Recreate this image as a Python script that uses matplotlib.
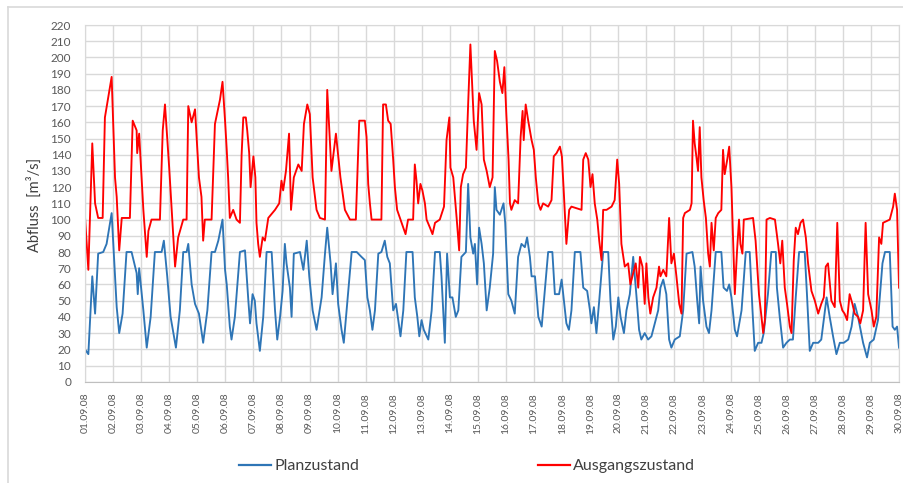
import matplotlib.pyplot as plt
from matplotlib.lines import Line2D

# Abfluss Sept. 2008 (day offset from 01.09.08, m3/s)
red_day = [0.00, 0.12, 0.26, 0.36, 0.47, 0.63, 0.71, 0.95, 1.07, 1.13, 1.22, 1.31, 1.60, 1.70, 1.84, 1.86, 1.93,
           2.08, 2.20, 2.26, 2.37, 2.67, 2.77, 2.85, 2.94, 3.00, 3.21, 3.32, 3.50, 3.62, 3.68, 3.80, 3.92,
           4.06, 4.15, 4.21, 4.27, 4.51, 4.63, 4.81, 4.90, 4.99, 5.05, 5.10, 5.16, 5.28, 5.40, 5.52, 5.58,
           5.64, 5.73, 5.78, 5.85, 5.90, 6.00, 6.07, 6.11, 6.17, 6.23, 6.33, 6.41, 6.53, 6.77, 6.92, 7.00,
           7.06, 7.16, 7.27, 7.34, 7.44, 7.60, 7.72, 7.80, 7.92, 8.01, 8.11, 8.25, 8.37, 8.55, 8.63, 8.78,
           8.94, 9.10, 9.26, 9.44, 9.65, 9.77, 9.97, 10.03, 10.09, 10.15, 10.21, 10.56, 10.62, 10.72, 10.80,
           10.89, 10.98, 11.04, 11.12, 11.22, 11.42, 11.51, 11.69, 11.75, 11.81, 11.87, 11.95, 12.02, 12.11,
           12.17, 12.29, 12.38, 12.47, 12.64, 12.79, 12.88, 12.98, 13.02, 13.12, 13.24, 13.33, 13.39, 13.47,
           13.57, 13.65, 13.73, 13.78, 13.85, 13.95, 14.04, 14.13, 14.21, 14.31, 14.42, 14.52, 14.60, 14.68,
           14.78, 14.87, 14.94, 15.01, 15.09, 15.14, 15.19, 15.31, 15.43, 15.52, 15.59, 15.63, 15.70, 15.79,
           15.91, 15.99, 16.06, 16.15, 16.23, 16.32, 16.50, 16.62, 16.70, 16.80, 16.92, 16.99, 17.06, 17.15,
           17.25, 17.33, 17.69, 17.75, 17.84, 17.93, 18.01, 18.08, 18.16, 18.25, 18.32, 18.40, 18.46, 18.58,
           18.76, 18.87, 18.96, 19.03, 19.11, 19.23, 19.35, 19.43, 19.53, 19.62, 19.71, 19.77, 19.86, 19.94,
           20.00, 20.07, 20.14, 20.24, 20.36, 20.45, 20.50, 20.60, 20.71, 20.81, 20.89, 20.98, 21.07, 21.17,
           21.25, 21.31, 21.37, 21.55, 21.61, 21.66, 21.72, 21.78, 21.84, 21.90, 21.96, 22.04, 22.12, 22.20,
           22.26, 22.32, 22.40, 22.47, 22.56, 22.67, 22.73, 22.79, 22.88, 22.95, 23.03, 23.15, 23.23, 23.30,
           23.35, 23.42, 23.47, 23.80, 23.89, 24.01, 24.10, 24.16, 24.22, 24.28, 24.40, 24.58, 24.69, 24.77,
           24.84, 24.93, 25.01, 25.11, 25.17, 25.25, 25.32, 25.40, 25.49, 25.58, 25.68, 25.76, 25.88, 26.00,
           26.12, 26.23, 26.32, 26.39, 26.47, 26.59, 26.71, 26.80, 26.89, 26.98, 27.06, 27.15, 27.24, 27.34,
           27.42, 27.54, 27.62, 27.72, 27.81, 27.90, 28.02, 28.10, 28.19, 28.29, 28.37, 28.43, 28.67, 28.79,
           28.85, 28.93, 29.00]
red_q = [102, 69, 147, 110, 101, 101, 163, 188, 126, 114, 81, 101, 101, 161, 155, 141, 153,
         106, 77, 93, 100, 100, 155, 171, 147, 132, 71, 89, 100, 100, 170, 160, 168,
         126, 114, 87, 100, 100, 159, 174, 185, 161, 143, 126, 101, 106, 100, 98, 140,
         163, 163, 155, 141, 120, 139, 126, 98, 85, 77, 89, 87, 101, 106, 110, 124,
         118, 130, 153, 106, 126, 134, 130, 159, 171, 165, 126, 106, 101, 100, 180, 130,
         153, 126, 106, 100, 100, 161, 161, 151, 122, 110, 100, 100, 171, 171, 161,
         159, 137, 120, 106, 101, 91, 100, 100, 134, 124, 110, 122, 118, 110,
         100, 95, 91, 98, 100, 108, 149, 163, 132, 126, 101, 81, 120, 128,
         132, 171, 208, 188, 161, 143, 178, 171, 137, 130, 120, 126, 204, 198,
         185, 178, 194, 165, 137, 110, 106, 112, 110, 151, 167, 149, 171, 161,
         149, 143, 126, 110, 106, 110, 108, 112, 139, 141, 145, 139, 116, 85,
         106, 108, 106, 137, 141, 137, 120, 128, 110, 100, 87, 75, 106, 106,
         108, 112, 137, 122, 85, 71, 73, 60, 67, 73, 58, 77, 71, 48,
         73, 52, 42, 52, 58, 71, 65, 69, 65, 101, 73, 79, 65, 48,
         42, 101, 104, 106, 110, 161, 147, 139, 130, 157, 126, 112, 101, 79,
         71, 98, 81, 101, 104, 106, 143, 128, 137, 145, 120, 54, 81, 100,
         85, 79, 100, 101, 87, 54, 40, 30, 38, 100, 101, 100, 85, 73,
         87, 58, 48, 34, 30, 75, 95, 91, 98, 100, 89, 73, 56, 50,
         42, 48, 52, 71, 73, 50, 46, 98, 50, 44, 42, 38, 54, 48,
         42, 40, 36, 44, 98, 54, 44, 34, 40, 89, 85, 98, 100, 108,
         116, 106, 58]

blue_day = [0.00, 0.12, 0.26, 0.36, 0.47, 0.65, 0.77, 0.95, 1.01, 1.13, 1.22, 1.34, 1.48, 1.66, 1.84, 1.88, 1.93,
            2.08, 2.20, 2.34, 2.49, 2.73, 2.81, 2.93, 3.05, 3.24, 3.38, 3.50, 3.62, 3.68, 3.80, 3.92, 4.06,
            4.21, 4.36, 4.51, 4.63, 4.75, 4.90, 4.99, 5.05, 5.16, 5.22, 5.34, 5.52, 5.70, 5.76, 5.82, 5.88,
            5.97, 6.05, 6.11, 6.23, 6.35, 6.47, 6.65, 6.77, 6.85, 6.95, 7.04, 7.12, 7.18, 7.30, 7.36, 7.44,
            7.66, 7.78, 7.90, 7.99, 8.11, 8.25, 8.43, 8.55, 8.63, 8.75, 8.82, 8.94, 9.02, 9.14, 9.22, 9.32,
            9.50, 9.68, 9.85, 9.97, 10.06, 10.15, 10.24, 10.33, 10.45, 10.56, 10.68, 10.77, 10.86, 10.98,
            11.08, 11.16, 11.24, 11.34, 11.45, 11.67, 11.75, 11.84, 11.91, 11.99, 12.07, 12.23, 12.35, 12.47,
            12.64, 12.70, 12.82, 12.90, 13.00, 13.09, 13.21, 13.30, 13.41, 13.57, 13.65, 13.73, 13.83, 13.89,
            13.97, 14.04, 14.13, 14.21, 14.31, 14.42, 14.54, 14.60, 14.66, 14.78, 14.91, 14.97, 15.08, 15.19,
            15.31, 15.43, 15.55, 15.67, 15.75, 15.85, 15.91, 16.03, 16.15, 16.27, 16.38, 16.50, 16.65, 16.74,
            16.89, 16.98, 17.06, 17.15, 17.24, 17.33, 17.45, 17.65, 17.75, 17.89, 17.99, 18.04, 18.13, 18.22,
            18.32, 18.46, 18.64, 18.72, 18.82, 18.91, 19.00, 19.08, 19.20, 19.29, 19.41, 19.53, 19.65, 19.74,
            19.82, 19.94, 20.06, 20.18, 20.30, 20.42, 20.50, 20.60, 20.71, 20.81, 20.89, 21.01, 21.19, 21.31,
            21.43, 21.64, 21.72, 21.81, 21.88, 21.93, 22.02, 22.14, 22.23, 22.32, 22.47, 22.67, 22.75, 22.87,
            22.95, 23.03, 23.15, 23.23, 23.39, 23.54, 23.68, 23.78, 23.86, 23.98, 24.10, 24.18, 24.33, 24.45,
            24.61, 24.65, 24.75, 24.87, 24.99, 25.11, 25.22, 25.32, 25.44, 25.64, 25.72, 25.82, 25.94, 26.12,
            26.23, 26.42, 26.53, 26.65, 26.77, 26.89, 27.03, 27.19, 27.31, 27.42, 27.54, 27.72, 27.86, 27.96,
            28.10, 28.25, 28.41, 28.50, 28.67, 28.77, 28.85, 28.93, 29.00]
blue_q = [20, 17, 65, 42, 79, 80, 85, 104, 85, 46, 30, 42, 80, 80, 67, 54, 70,
          44, 21, 40, 80, 80, 87, 65, 40, 21, 44, 80, 80, 85, 60, 48, 42,
          24, 44, 80, 80, 87, 100, 69, 60, 34, 26, 40, 80, 81, 65, 50, 36,
          54, 50, 36, 19, 40, 80, 80, 44, 26, 40, 56, 85, 73, 58, 40, 79,
          80, 69, 87, 65, 44, 32, 52, 79, 95, 73, 54, 73, 48, 32, 24, 44,
          80, 80, 77, 75, 52, 44, 32, 44, 79, 80, 87, 77, 73, 44,
          48, 38, 28, 44, 80, 80, 52, 40, 28, 38, 32, 26, 44, 80,
          80, 65, 24, 79, 52, 52, 40, 44, 77, 80, 122, 89, 79, 85,
          60, 95, 85, 73, 44, 58, 79, 120, 106, 103, 110, 98, 54, 50,
          42, 77, 85, 83, 89, 77, 65, 65, 40, 34, 56, 80, 80, 54,
          54, 63, 50, 36, 32, 44, 80, 80, 58, 56, 44, 36, 46, 30,
          50, 80, 80, 50, 26, 34, 52, 40, 30, 44, 54, 77, 52, 32,
          26, 30, 26, 28, 36, 44, 58, 63, 54, 26, 21, 26, 28, 44,
          79, 80, 71, 50, 36, 71, 50, 34, 30, 44, 80, 80, 58, 56,
          60, 52, 32, 28, 44, 80, 80, 44, 19, 24, 24, 30, 54, 80,
          80, 58, 40, 21, 24, 26, 26, 52, 80, 80, 54, 19, 24, 24,
          26, 52, 40, 28, 17, 24, 24, 26, 34, 48, 40, 24, 15, 24,
          26, 38, 73, 80, 80, 34, 32, 34, 21]

date_labels = ['01.09.08', '02.09.08', '03.09.08', '04.09.08', '05.09.08', '06.09.08', '07.09.08', '08.09.08',
               '09.09.08', '10.09.08', '11.09.08', '12.09.08', '13.09.08', '14.09.08', '15.09.08', '16.09.08',
               '17.09.08', '18.09.08', '19.09.08', '20.09.08', '21.09.08', '22.09.08', '23.09.08', '24.09.08',
               '25.09.08', '26.09.08', '27.09.08', '28.09.08', '29.09.08', '30.09.08']

plt.rcParams['font.family'] = ['Lato', 'DejaVu Sans']

fig = plt.figure(figsize=(9.04, 4.83), dpi=100)
ax = fig.add_axes([0.094, 0.2097, 0.9005, 0.7385])

ax.plot(blue_day, blue_q, color='#2E75B6', lw=1.35, label='Planzustand')
ax.plot(red_day, red_q, color='#FF0000', lw=1.35, label='Ausgangszustand')

ax.set_xlim(0, 29)
ax.set_ylim(0, 220)
ax.set_yticks(range(0, 221, 10))
ax.set_xticks(range(len(date_labels)))
ax.set_xticklabels(date_labels, rotation=90)
ax.grid(True, color='#D9D9D9', lw=1)
ax.set_axisbelow(True)
for s in ['top', 'right', 'left']:
    ax.spines[s].set_color('#D9D9D9')
ax.spines['bottom'].set_color('#BFBFBF')
ax.tick_params(axis='both', length=0, colors='#595959', labelsize=8.5)
ax.tick_params(axis='x', pad=8, labelsize=7.5)
ax.tick_params(axis='y', pad=10)

fig.text(0.038, 0.576, 'Abfluss  [m³/s]', rotation=90, ha='center', va='center',
         fontsize=10.5, color='#404040')

# chart area border (only left/top visible in the original)
fig.add_artist(Line2D([8/904, 8/904], [0, 1 - 7/483], transform=fig.transFigure, color='#D9D9D9', lw=1.2))
fig.add_artist(Line2D([8/904, 1], [1 - 7/483, 1 - 7/483], transform=fig.transFigure, color='#D9D9D9', lw=1.2))

handles = [Line2D([], [], color='#2E75B6', lw=1.6), Line2D([], [], color='#FF0000', lw=1.6)]
fig.legend(handles, ['Planzustand', 'Ausgangszustand'], loc='center', bbox_to_anchor=(0.517, 0.035),
           ncol=2, frameon=False, fontsize=11.5, handlelength=2.0, handletextpad=0.2,
           columnspacing=11.2, labelcolor='#404040')

fig.savefig('out.png', dpi=100)
